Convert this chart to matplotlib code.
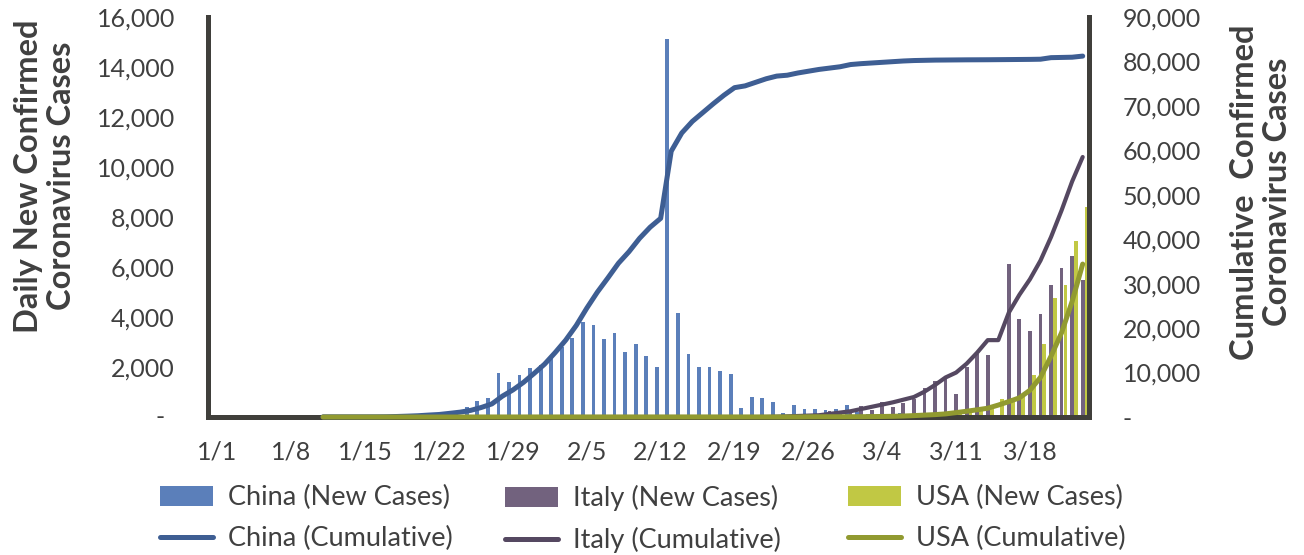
import numpy as np
import pandas as pd
import matplotlib.pyplot as plt
from matplotlib.patches import Patch
from matplotlib.lines import Line2D

plt.rcParams["font.family"] = ["Lato", "DejaVu Sans"]

# Daily series, one value per day from 1/1 to 3/23
dates = pd.date_range("2020-01-01", "2020-03-23")
tick_labels = ["1/1", "1/8", "1/15", "1/22", "1/29", "2/5", "2/12",
               "2/19", "2/26", "3/4", "3/11", "3/18"]

china_new = [0] * 18 + [
    60, 0, 80, 140, 130, 250, 400, 640, 760, 1750,
    1420, 1690, 1960, 2080, 2460, 2800, 3180, 3820, 3680, 3110,
    3360, 2590, 2930, 2440, 1990, 15130, 4150, 2520, 1990, 1990,
    1860, 1720, 350, 820, 750, 610, 150, 470, 340, 340,
    280, 340, 470, 200, 125, 120, 140, 145, 100, 45,
    40, 20, 25, 15, 10, 10, 20, 15, 20, 15,
    35, 40, 40, 45, 40]

italy_new = [0] * 53 + [
    20, 60, 75, 95, 80, 250, 240, 240, 460, 300,
    590, 410, 570, 720, 1175, 1443, 1644, 910, 2010, 2510,
    2470, 0, 6120, 3920, 3450, 4120, 5290, 5950, 6460, 5480]

usa_new = [0] * 66 + [
    98, 116, 106, 163, 290, 307, 329, 350, 710, 780,
    850, 1700, 2910, 4760, 5290, 7030, 8400]

china_cum = [None] * 10 + [
    41, 41, 41, 41, 41, 45, 62, 121, 198, 291,
    440, 571, 830, 1100, 1500, 2150, 2950, 4700, 6100, 7800,
    9800, 11900, 14500, 17300, 20600, 24500, 28100, 31300, 34600, 37200,
    40200, 42700, 44700, 59800, 63900, 66500, 68500, 70500, 72400, 74100,
    74500, 75300, 76100, 76700, 76900, 77400, 77800, 78200, 78500, 78800,
    79300, 79500, 79650, 79800, 79950, 80100, 80200, 80250, 80300, 80320,
    80340, 80360, 80370, 80380, 80400, 80420, 80440, 80460, 80500, 80850,
    80900, 80950, 81200]

italy_cum = [None] * 10 + [0] * 20 + [2] * 8 + [3] * 14 + [
    20, 79, 150, 229, 322, 400, 700, 1000, 1300, 1800,
    2300, 2800, 3300, 3900, 4500, 5700, 7200, 8900, 10000, 12000,
    14500, 17300, 17300, 23500, 27500, 31000, 35200, 40500, 46500, 53000,
    58500]

usa_cum = [None] * 10 + [
    1, 1, 1, 1, 1, 1, 1, 1, 1, 1,
    1, 1, 2, 2, 5, 5, 5, 5, 5, 5,
    6, 7, 8, 11, 11, 12, 12, 12, 12, 12,
    13, 13, 13, 13, 14, 15, 15, 15, 15, 15,
    15, 15, 15, 15, 15, 15, 53, 57, 60, 60,
    68, 75, 100, 124, 158, 221, 319, 435, 541, 704,
    994, 1301, 1630, 1980, 2690, 3470, 4320, 6020, 8930, 13690,
    18980, 26010, 34410]

china_bar, china_line = "#5b7fba", "#3e5e93"
italy_bar, italy_line = "#72627e", "#554861"
usa_bar, usa_line = "#c1c844", "#919a30"
axis_col = "#403f3b"
text_col = "#404040"

x = np.arange(len(dates))

fig = plt.figure(figsize=(13.04, 5.55), dpi=100)
ax = fig.add_axes([0.1597, 0.2486, 0.6756, 0.7208])
ax2 = ax.twinx()

# daily bars, clustered around each date
w, off = 0.36, 0.37
ax.bar(x - off, china_new, w, color=china_bar, linewidth=0)
ax.bar(x, italy_new, w, color=italy_bar, linewidth=0)
ax.bar(x + off, usa_new, w, color=usa_bar, linewidth=0)

# cumulative lines on the right axis
for vals, col, lw in [(china_cum, china_line, 3.6),
                      (italy_cum, italy_line, 3.0),
                      (usa_cum, usa_line, 3.6)]:
    ax2.plot(x, np.array(vals, dtype=float), color=col, lw=lw,
             solid_capstyle="round", solid_joinstyle="round",
             zorder=3, clip_on=False)

ax.set_xlim(-0.88, 82.62)
ax.set_ylim(0, 16000)
ax2.set_ylim(0, 90000)

for s in ax.spines.values():
    s.set_visible(False)
ax2.spines["top"].set_visible(False)
for side in ["left", "right", "bottom"]:
    ax2.spines[side].set_color(axis_col)
    ax2.spines[side].set_linewidth(3.6)
    ax2.spines[side].set_capstyle("projecting")

ax.set_xticks(np.arange(0, 78, 7))
ax.set_xticklabels(tick_labels)
left_ticks = np.arange(0, 16001, 2000)
ax.set_yticks(left_ticks)
ax.set_yticklabels([""] + [f"{v:,}" for v in left_ticks[1:]])
right_ticks = np.arange(0, 90001, 10000)
ax2.set_yticks(right_ticks)
ax2.set_yticklabels(["-"] + [f"{v:,}" for v in right_ticks[1:]])

ax.tick_params(axis="x", length=0, pad=17, labelsize=18, colors=text_col)
ax.tick_params(axis="y", length=0, pad=24, labelsize=18, colors=text_col)
ax2.tick_params(axis="y", length=0, pad=24, labelsize=18, colors=text_col)

# zero on the left axis shown as a dash
ax.annotate("-", xy=(0, 0), xycoords=("axes fraction", "data"),
            xytext=(-34.5, 0), textcoords="offset points",
            ha="center", va="center", fontsize=18, color=text_col)

fig.text(45 / 1304, 1 - 176 / 555, "Daily New Confirmed\nCoronavirus Cases",
         rotation=90, ha="center", va="center", fontsize=23.5,
         fontweight="bold", color=text_col, linespacing=1.2)
fig.text(1261 / 1304, 1 - 192 / 555, "Cumulative  Confirmed\nCoronavirus Cases",
         rotation=90, ha="center", va="center", fontsize=23.5,
         fontweight="bold", color=text_col, linespacing=1.2)

# legend: one column per country
groups = [("China", china_bar, china_line, 160),
          ("Italy", italy_bar, italy_line, 505),
          ("USA", usa_bar, usa_line, 848)]
for name, bcol, lcol, px in groups:
    handles = [Patch(facecolor=bcol, edgecolor="none"),
               Line2D([], [], color=lcol, lw=3.6, solid_capstyle="round")]
    labels = [f"{name} (New Cases)", f"{name} (Cumulative)"]
    leg = fig.legend(handles, labels, loc="upper left",
                     bbox_to_anchor=(px / 1304, 1 - 485 / 555),
                     frameon=False, borderpad=0, borderaxespad=0,
                     fontsize=19.5, handlelength=1.96, handleheight=0.76,
                     handletextpad=0.55, labelspacing=0.6)
    for t in leg.get_texts():
        t.set_color(text_col)

fig.savefig("out.png", dpi=100)
